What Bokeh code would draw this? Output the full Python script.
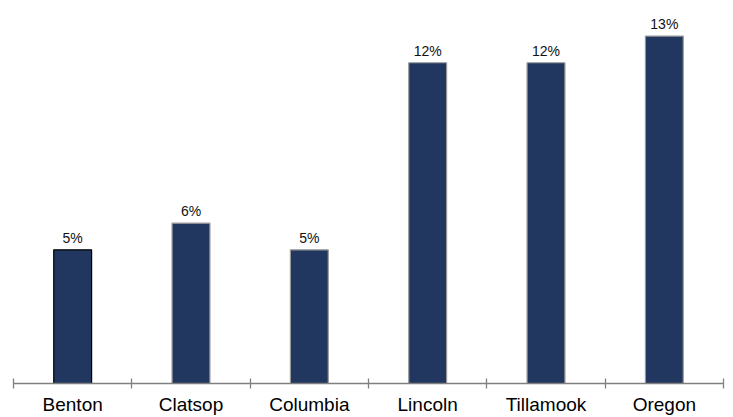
from bokeh.plotting import figure
from bokeh.models import Range1d, FixedTicker, LinearAxis, ColumnDataSource, LabelSet
from bokeh.core.properties import value
from bokeh.embed import file_html
from bokeh.resources import INLINE

categories = ["Benton", "Clatsop", "Columbia", "Lincoln", "Tillamook", "Oregon"]
values = [5, 6, 5, 12, 12, 13]
value_labels = ["5%", "6%", "5%", "12%", "12%", "13%"]

n = len(categories)
xs = [i + 0.5 for i in range(n)]
outline = ["#000000"] + ["#9a9a9a"] * (n - 1)

src = ColumnDataSource(dict(x=xs, top=values, lab=value_labels, lc=outline))

p = figure(width=733, height=417, x_range=Range1d(0, n), y_range=Range1d(0, 14.03),
           output_backend="svg", toolbar_location=None,
           min_border_left=13, min_border_right=10, min_border_top=8, min_border_bottom=0,
           x_axis_location=None, y_axis_location=None)
p.outline_line_color = None
p.grid.visible = False
p.background_fill_color = "white"

p.vbar(x="x", top="top", bottom=0, width=0.32, source=src,
       fill_color="#21375f", line_color="lc", line_width=1.2)

labels = LabelSet(x="x", y="top", text="lab", source=src, y_offset=4,
                  text_align="center", text_baseline="bottom",
                  text_font=value("Liberation Sans"), text_font_size=value("14px"),
                  text_color="#111111")
p.add_layout(labels)

ax1 = LinearAxis(ticker=FixedTicker(ticks=list(range(n + 1))),
                 major_label_overrides={i: "" for i in range(n + 1)},
                 major_label_text_font_size="1px", major_label_standoff=0,
                 axis_line_color="#808080", axis_line_width=1.3,
                 major_tick_line_color="#808080", major_tick_line_width=1.3,
                 major_tick_in=5, major_tick_out=5,
                 minor_tick_line_color=None)
ax2 = LinearAxis(ticker=FixedTicker(ticks=xs),
                 major_label_overrides={x: c for x, c in zip(xs, categories)},
                 axis_line_color=None, major_tick_line_color=None, minor_tick_line_color=None,
                 major_tick_in=0, major_tick_out=0, major_label_standoff=5,
                 major_label_text_font="Liberation Sans", major_label_text_font_size="19px",
                 major_label_text_color="#000000")
p.add_layout(ax1, "below")
p.add_layout(ax2, "below")

open("out.html", "w").write(file_html(p, INLINE))
